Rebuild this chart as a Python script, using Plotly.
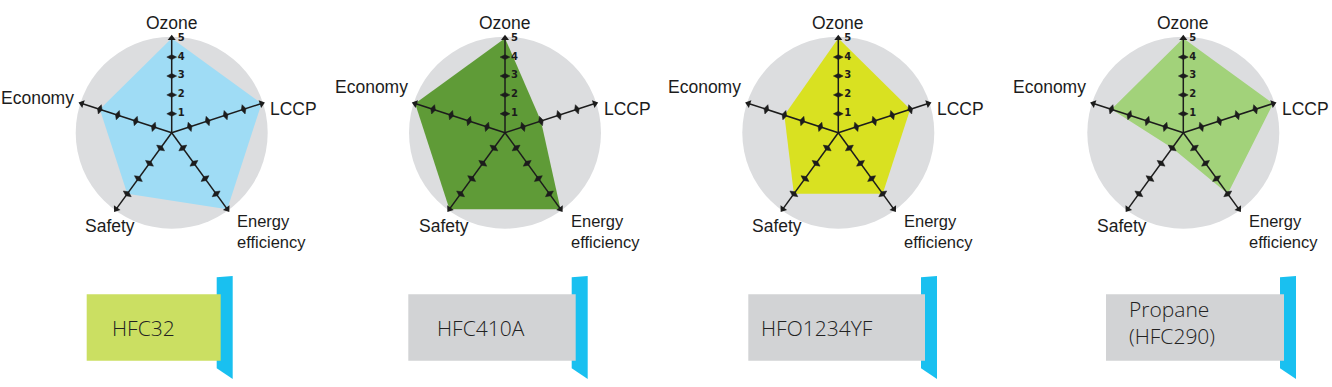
import plotly.graph_objects as go

W, H = 1332, 387

# ---------------- data ----------------
criteria = ["Ozone", "LCCP", "Energy efficiency", "Safety", "Economy"]
refrigerants = ["HFC32", "HFC410A", "HFO1234YF", "Propane (HFC290)"]
hfc32 = [5, 5, 5, 4, 4]
hfc410a = [5, 2, 5, 5, 5]
hfo1234yf = [5, 4, 4, 4, 3]
propane = [5, 5, 4, 1, 4]
scale_ticks = [1, 2, 3, 4, 5]
box_labels = ["HFC32", "HFC410A", "HFO1234YF", "Propane<br>(HFC290)"]

series = [hfc32, hfc410a, hfo1234yf, propane]

# ---------------- layout / style ----------------
centers_x = [171.7, 505.0, 838.3, 1183.3]
center_y = 132.7
R = 96.0
RMAX = 5.08
fill_colors = ["#9fdcf5", "#5f9b37", "#d9e121", "#a2d27a"]
circle_color = "#dcdddf"
ink = "#1c1c1c"

box_left = [86.7, 408.3, 748.3, 1106.0]
box_right = [220.7, 575.7, 925.0, 1284.0]
box_top, box_bottom = 294.3, 360.7
box_colors = ["#cbdf62", "#d2d3d5", "#d2d3d5", "#d2d3d5"]
text_left = [110.0, 435.0, 759.3, 1126.7]
flag_color = "#19c0f0"

label_font = dict(family="Liberation Sans, Arial, sans-serif", size=17.5, color=ink)
box_font = dict(family="Open Sans, sans-serif", size=21, color="#222222", weight=300)


def px(x):
    return x / W


def py(y):
    return 1 - y / H


fig = go.Figure()
n = len(criteria)
angles = [360.0 / n * k for k in range(n)]

for i, vals in enumerate(series):
    sp = "polar" if i == 0 else f"polar{i + 1}"
    # filled polygon
    fig.add_trace(go.Scatterpolar(
        r=vals + [vals[0]], theta=criteria + [criteria[0]],
        mode="lines", fill="toself", fillcolor=fill_colors[i],
        line=dict(width=0, color=fill_colors[i]), subplot=sp,
        hoverinfo="skip", showlegend=False, name=refrigerants[i]))
    # spokes
    rr, tt = [], []
    for c in criteria:
        rr += [0, scale_ticks[-1], None]
        tt += [c, c, None]
    fig.add_trace(go.Scatterpolar(
        r=rr, theta=tt, mode="lines", line=dict(color=ink, width=1.5),
        connectgaps=False, subplot=sp, hoverinfo="skip", showlegend=False))
    # tick marks
    tr, tth, tang = [], [], []
    for k, c in enumerate(criteria):
        for v in scale_ticks[:-1]:
            tr.append(v)
            tth.append(c)
            tang.append(angles[k])
    fig.add_trace(go.Scatterpolar(
        r=tr, theta=tth, mode="markers",
        marker=dict(symbol="diamond-wide", size=7, angle=tang, color=ink,
                    line=dict(color=ink, width=0.5)),
        subplot=sp, hoverinfo="skip", showlegend=False))
    # arrow heads
    fig.add_trace(go.Scatterpolar(
        r=[scale_ticks[-1]] * n, theta=criteria, mode="markers",
        marker=dict(symbol="triangle-up", size=7, angle=angles, color=ink),
        subplot=sp, hoverinfo="skip", showlegend=False))
    # scale labels on the Ozone axis (invisible marker pushes text off the axis)
    fig.add_trace(go.Scatterpolar(
        r=scale_ticks, theta=[criteria[0]] * len(scale_ticks), mode="markers+text",
        marker=dict(size=8, opacity=0),
        text=[f"<b>{v}</b>" for v in scale_ticks], textposition="middle right",
        textfont=dict(family="DejaVu Sans, sans-serif", size=10, color=ink),
        subplot=sp, hoverinfo="skip", showlegend=False))

    cx = centers_x[i]
    fig.layout[sp] = dict(
        domain=dict(x=[px(cx - R), px(cx + R)],
                    y=[py(center_y + R), py(center_y - R)]),
        bgcolor=circle_color,
        radialaxis=dict(visible=False, range=[0, RMAX]),
        angularaxis=dict(type="category", categoryarray=criteria,
                         rotation=90, direction="clockwise",
                         showgrid=False, showline=False,
                         showticklabels=False, ticks=""),
    )

    # criterion labels
    econ_dy = -35 if i == 0 else -46
    labels = [
        ("Ozone", 0, -109.5, "center", 17.5),
        ("LCCP", 96.5, -23.5, "left", 17.5),
        ("Energy<br>efficiency", 63.5, 99.0, "left", 16.5),
        ("Safety", -61.5, 93.5, "center", 17.5),
        ("Economy", -95.5, econ_dy, "right", 17.5),
    ]
    for txt, dx, dy, xa, fs in labels:
        fig.add_annotation(x=px(cx + dx), y=py(center_y + dy), xref="paper", yref="paper",
                           text=txt, showarrow=False, xanchor=xa, yanchor="middle",
                           align="left", font=dict(label_font, size=fs))

    # label boxes
    bl, br = box_left[i], box_right[i]
    fx0, fx1 = br - 4, br + 12
    fig.add_shape(type="path", xref="paper", yref="paper",
                  path=(f"M {px(fx0)} {py(277.3)} L {px(fx1)} {py(276.0)} "
                        f"L {px(fx1)} {py(379.0)} L {px(fx0)} {py(368.3)} Z"),
                  fillcolor=flag_color, line=dict(width=0), layer="above")
    fig.add_shape(type="rect", xref="paper", yref="paper",
                  x0=px(bl), x1=px(br), y0=py(box_bottom), y1=py(box_top),
                  fillcolor=box_colors[i], line=dict(width=0), layer="above")
    ty = 327.5 if "<br>" not in box_labels[i] else 322.5
    fig.add_annotation(x=px(text_left[i]), y=py(ty), xref="paper", yref="paper",
                       text=box_labels[i], showarrow=False, xanchor="left",
                       yanchor="middle", align="left", font=box_font)

fig.update_layout(width=W, height=H, margin=dict(l=0, r=0, t=0, b=0),
                  paper_bgcolor="white", plot_bgcolor="white", showlegend=False)

fig.write_html("out.html")
